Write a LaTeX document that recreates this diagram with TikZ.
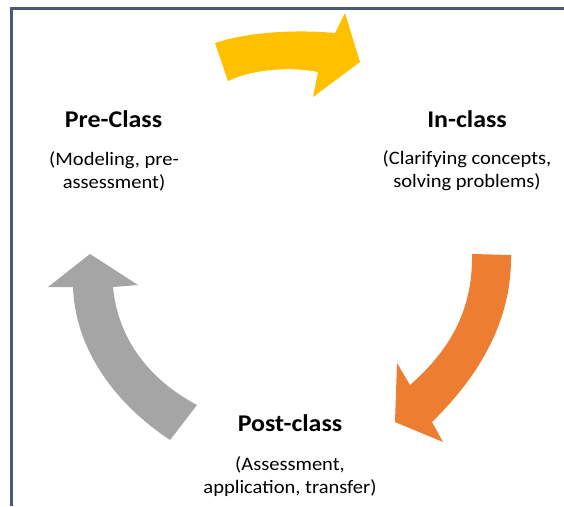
\documentclass[tikz,border=0pt]{standalone}
\usepackage{fontspec}
\setmainfont[FakeStretch=1.08]{Carlito}
\definecolor{frameblue}{HTML}{4B5A78}
\definecolor{ayellow}{HTML}{FFC000}
\definecolor{aorange}{HTML}{ED7D31}
\definecolor{agray}{HTML}{A5A5A5}
\tikzset{
  title/.style={anchor=base, inner sep=0pt, font=\fontsize{24}{28}\selectfont\bfseries},
  sub/.style={anchor=base, inner sep=0pt, align=center, font=\fontsize{19}{23}\selectfont},
}
\begin{document}
\begin{tikzpicture}[x=1pt,y=-1pt]
\useasboundingbox (0,0) rectangle (564,506);
\fill[white] (0,0) rectangle (564,506);
% frame
\draw[frameblue, line width=3pt, line join=miter] (564,8.5) -- (11.5,8.5) -- (11.5,506);
% yellow arrow
\fill[ayellow] (215,43) .. controls (245,33) and (290,29) .. (335,33)
  -- (345,13) -- (360,62) -- (313,97) -- (318,72)
  .. controls (295,67) and (255,68) .. (228,81) -- cycle;
% orange arrow
\fill[aorange] (472,254) -- (511,255) .. controls (512,320) and (480,375) .. (432,422)
  -- (443,442) -- (395,422) -- (397,363) -- (410,385)
  .. controls (450,350) and (473,310) .. (472,254) -- cycle;
% gray arrow
\fill[agray] (170,440) .. controls (110,400) and (75,345) .. (73,287)
  -- (48,287) -- (90,254) -- (138,285) -- (113,287)
  .. controls (118,340) and (150,380) .. (197,405) -- cycle;
% texts (sub anchors are at the baseline of the last line)
\node[title] (pre) at (113.5,127) {Pre-Class};
\node[sub] (presub) at (114,188) {(Modeling, pre-\\assessment)};
\node[title] (in) at (467,127) {In-class};
\node[sub] (insub) at (467,187) {(Clarifying concepts,\\solving problems)};
\node[title] (post) at (290,431) {Post-class};
\node[sub] (postsub) at (290,493) {(Assessment,\\application, transfer)};
\end{tikzpicture}
\end{document}
